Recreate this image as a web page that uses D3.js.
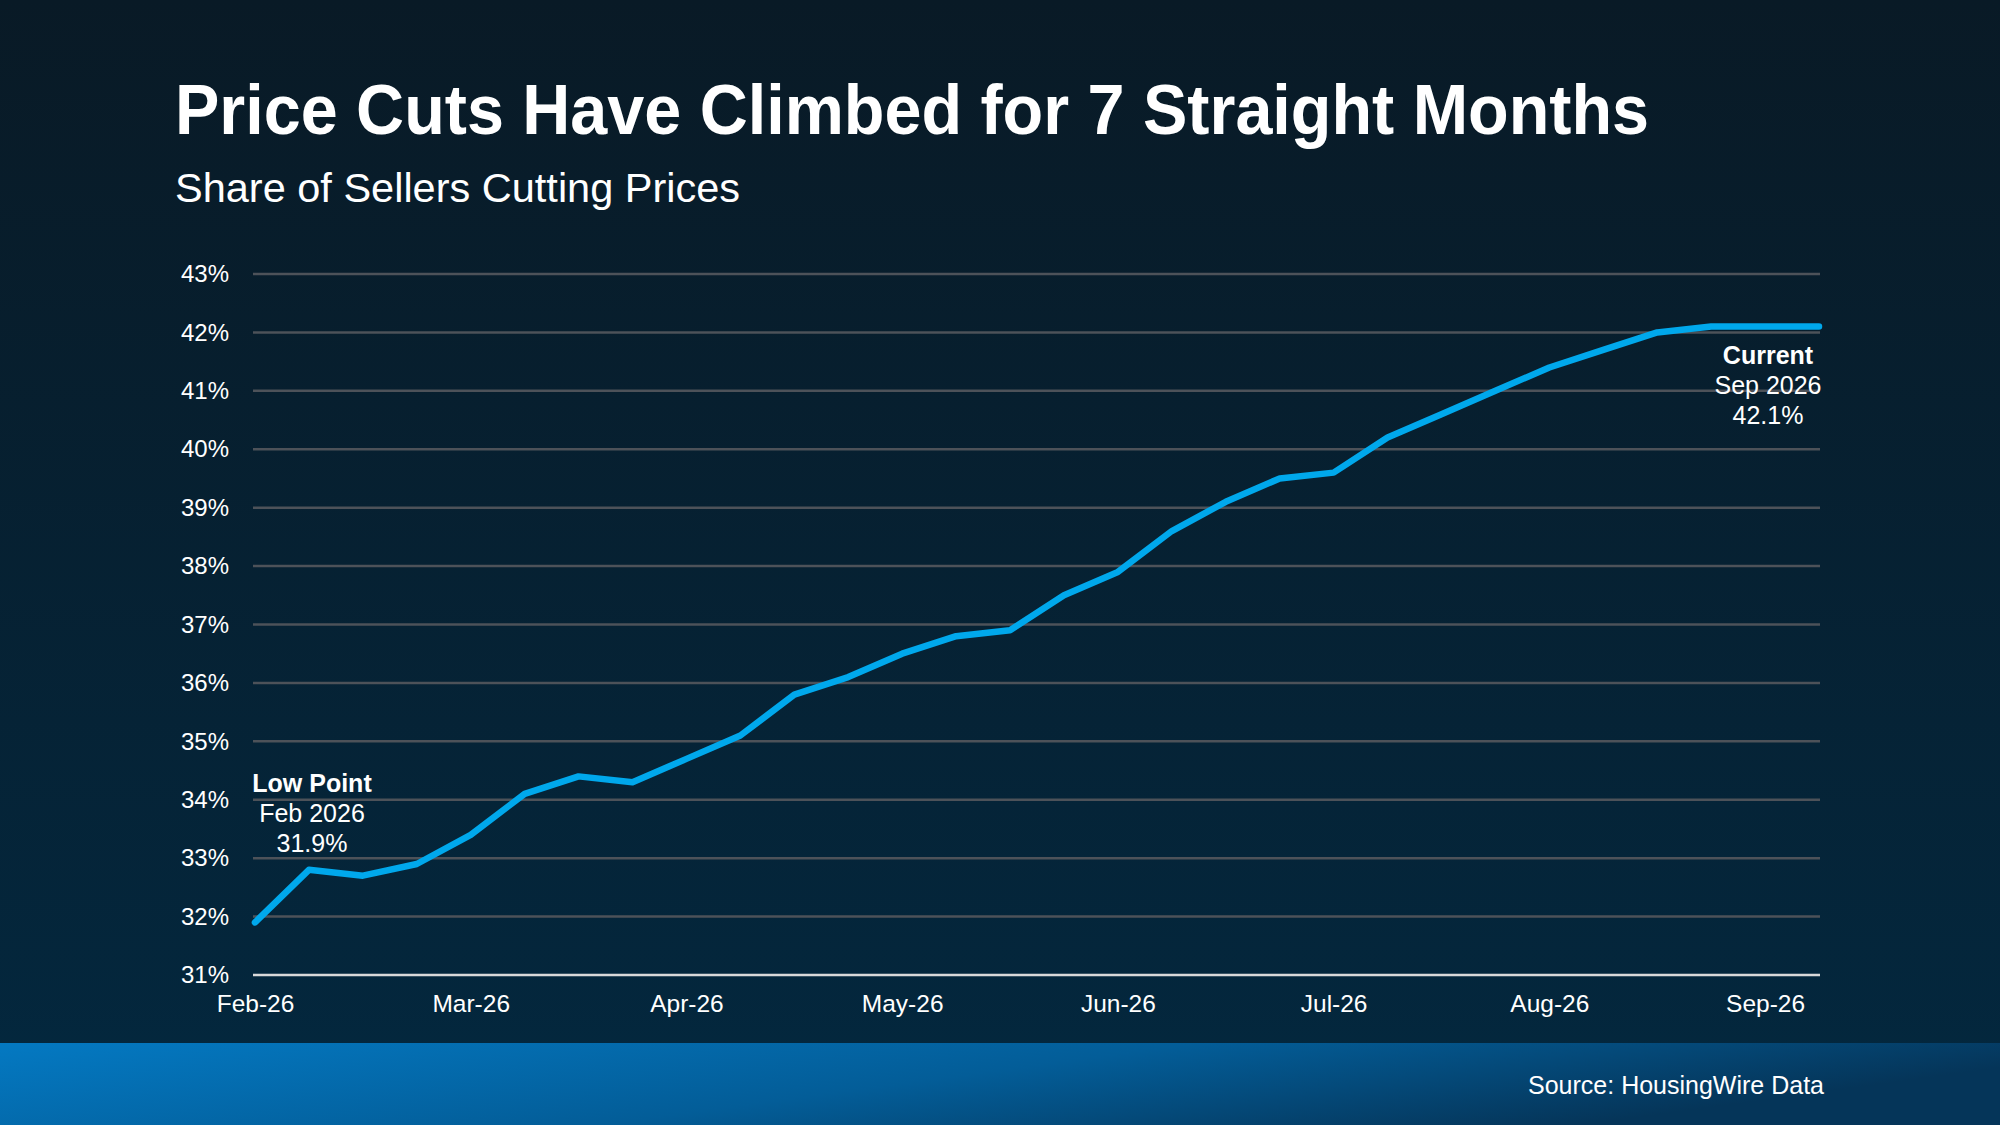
<!DOCTYPE html>
<html>
<head>
<meta charset="utf-8">
<script src="https://cdn.jsdelivr.net/npm/d3@7"></script>
<style>
  html, body { margin: 0; padding: 0; background: #06202f; }
  svg { display: block; font-family: "Liberation Sans", Arial, sans-serif; }
</style>
</head>
<body>
<div id="chart"></div>
<script>
// weekly share of sellers cutting prices (%), Feb 2026 -> Sep 2026
var values = [31.9, 32.8, 32.7, 32.9, 33.4, 34.1, 34.4, 34.3, 34.7, 35.1,
              35.8, 36.1, 36.5, 36.8, 36.9, 37.5, 37.9, 38.6, 39.1, 39.5,
              39.6, 40.2, 40.6, 41.0, 41.4, 41.7, 42.0, 42.1, 42.1, 42.1];
var monthLabels = ["Feb-26", "Mar-26", "Apr-26", "May-26", "Jun-26", "Jul-26", "Aug-26", "Sep-26"];
var monthIndex = [0, 4, 8, 12, 16, 20, 24, 28];
var yTicks = [31, 32, 33, 34, 35, 36, 37, 38, 39, 40, 41, 42, 43];

var W = 2000, H = 1125;
var margin = {top: 274, right: 180, bottom: 150, left: 253},
    width = W - margin.left - margin.right,
    height = H - margin.top - margin.bottom;

var svg = d3.select("#chart")
  .append("svg")
    .attr("width", W)
    .attr("height", H);

var defs = svg.append("defs");
var bg = defs.append("linearGradient").attr("id", "bg")
  .attr("x1", 0).attr("y1", 0).attr("x2", 0).attr("y2", 1);
bg.append("stop").attr("offset", "0%").attr("stop-color", "#091a26");
bg.append("stop").attr("offset", "100%").attr("stop-color", "#03283f");

var band = defs.append("linearGradient").attr("id", "band")
  .attr("x1", 0).attr("y1", 0).attr("x2", 1).attr("y2", 0.3);
band.append("stop").attr("offset", "0%").attr("stop-color", "#0479c2");
band.append("stop").attr("offset", "55%").attr("stop-color", "#035d98");
band.append("stop").attr("offset", "100%").attr("stop-color", "#053559");

svg.append("rect").attr("width", W).attr("height", H).attr("fill", "url(#bg)");
svg.append("rect").attr("y", 1043).attr("width", W).attr("height", H - 1043).attr("fill", "url(#band)");

// titles
svg.append("text")
  .attr("x", 175).attr("y", 134)
  .attr("fill", "#fff")
  .attr("textLength", 1474)
  .attr("lengthAdjust", "spacingAndGlyphs")
  .style("font-size", "70px").style("font-weight", "bold")
  .text("Price Cuts Have Climbed for 7 Straight Months");

svg.append("text")
  .attr("x", 175).attr("y", 202)
  .attr("fill", "#fff")
  .style("font-size", "41.5px")
  .text("Share of Sellers Cutting Prices");

svg.append("text")
  .attr("x", 1824).attr("y", 1094)
  .attr("text-anchor", "end")
  .attr("fill", "#fff")
  .style("font-size", "25px")
  .text("Source: HousingWire Data");

var g = svg.append("g")
  .attr("transform", "translate(" + margin.left + "," + margin.top + ")");

var x = d3.scaleLinear().domain([0, values.length - 1]).range([2, width - 1]);
var y = d3.scaleLinear().domain([31, 43]).range([height, 0]);

// grid
g.selectAll(".grid")
  .data(yTicks)
  .enter().append("line")
    .attr("x1", 0).attr("x2", width)
    .attr("y1", function(d) { return y(d); })
    .attr("y2", function(d) { return y(d); })
    .attr("stroke", function(d) { return d === 31 ? "#d9d9d9" : "#4d5259"; })
    .attr("stroke-width", 2.5);

// Y axis labels
var yAxis = g.append("g")
  .call(d3.axisLeft(y).tickValues(yTicks).tickSize(0).tickPadding(24)
    .tickFormat(function(d) { return d + "%"; }));
yAxis.select(".domain").remove();
yAxis.selectAll("text")
  .attr("fill", "#fff")
  .style("font-size", "24px")
  .style("font-family", "'Liberation Sans', Arial, sans-serif");

// X axis labels
var xAxis = g.append("g")
  .attr("transform", "translate(0," + height + ")")
  .call(d3.axisBottom(x).tickValues(monthIndex).tickSize(0).tickPadding(20)
    .tickFormat(function(d, i) { return monthLabels[i]; }));
xAxis.select(".domain").remove();
xAxis.selectAll("text")
  .attr("fill", "#fff")
  .style("font-size", "24.5px")
  .style("font-family", "'Liberation Sans', Arial, sans-serif");

// line
var line = d3.line()
  .x(function(d, i) { return x(i); })
  .y(function(d) { return y(d); });

g.append("path")
  .datum(values)
  .attr("d", line)
  .attr("fill", "none")
  .attr("stroke", "#00a8ec")
  .attr("stroke-width", 6.5)
  .attr("stroke-linejoin", "round")
  .attr("stroke-linecap", "round");

// annotations
function note(cx, cy, lines) {
  var t = g.append("text")
    .attr("text-anchor", "middle")
    .attr("fill", "#fff")
    .style("font-size", "25px");
  lines.forEach(function(s, i) {
    t.append("tspan")
      .attr("x", cx)
      .attr("y", cy + i * 30)
      .style("font-weight", i === 0 ? "bold" : "normal")
      .text(s);
  });
}

var last = values.length - 1;
note(x(0) + 57, y(values[0]) - 130, ["Low Point", "Feb 2026", values[0] + "%"]);
note(x(last) - 51, y(values[last]) + 37, ["Current", "Sep 2026", values[last] + "%"]);
</script>
</body>
</html>
